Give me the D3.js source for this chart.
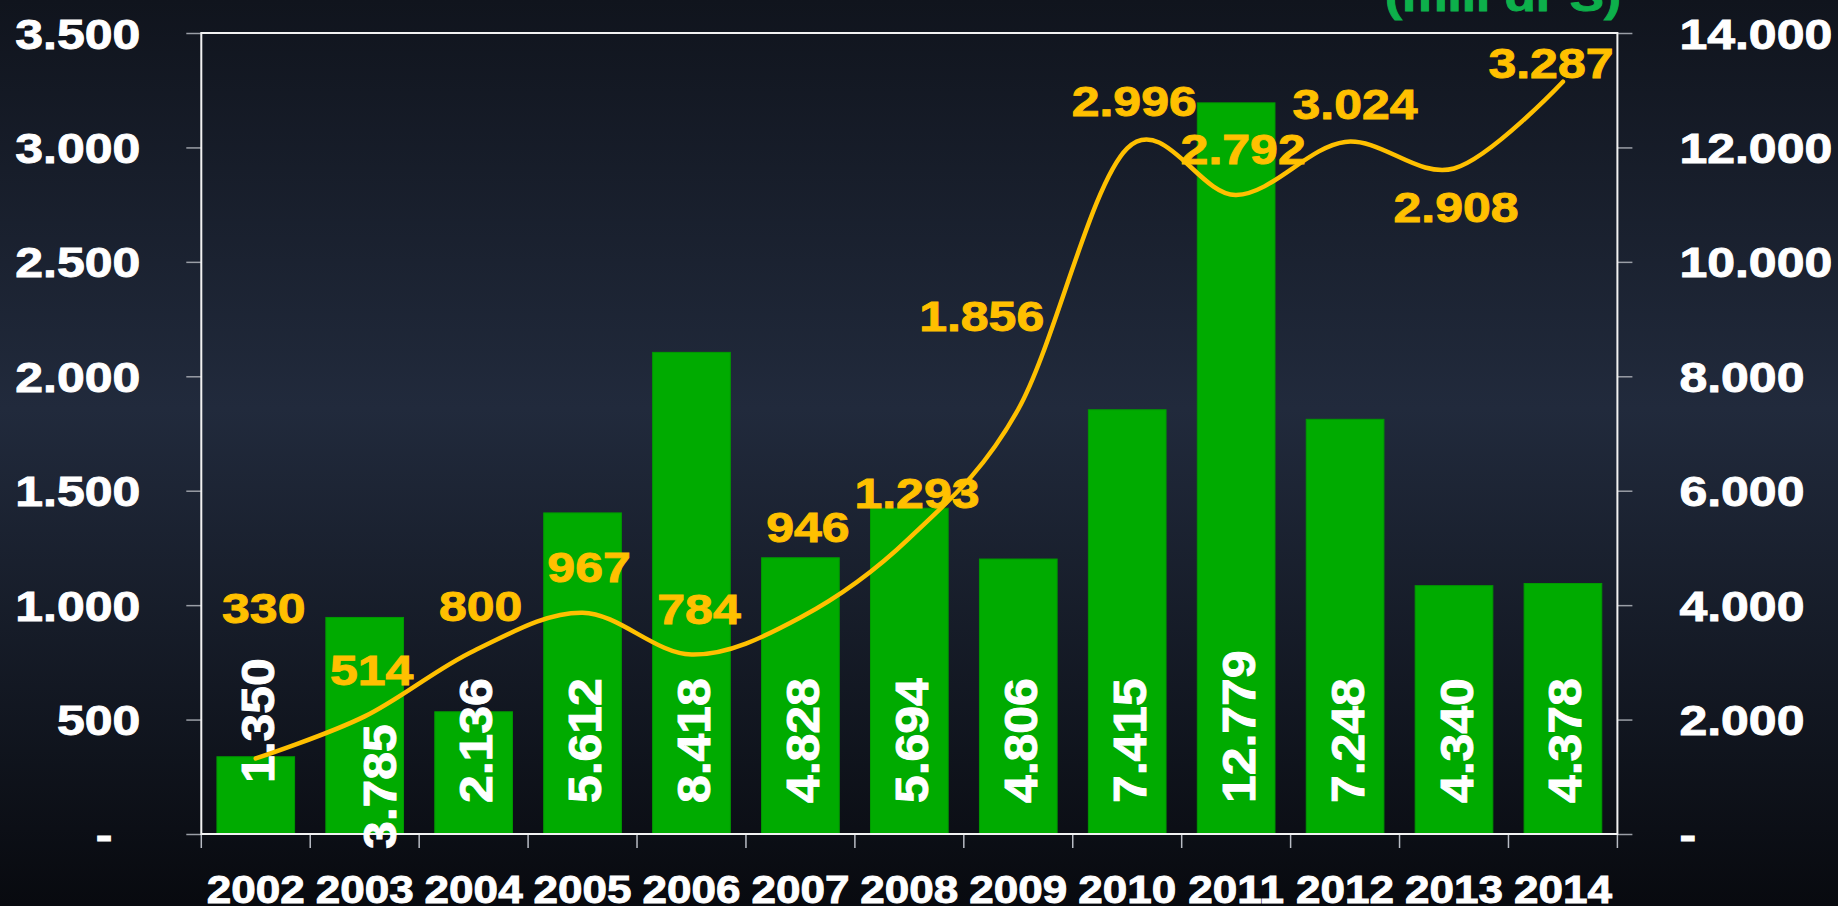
<!DOCTYPE html>
<html>
<head>
<meta charset="utf-8">
<script src="https://cdn.jsdelivr.net/npm/d3@7"></script>
<style>
  html, body { margin: 0; padding: 0; background: #10141d; overflow: hidden; }
  svg { display: block; }
</style>
</head>
<body>
<svg id="chart" width="1838" height="906"></svg>
<script>
// ---------------- data ----------------
const years = ["2002","2003","2004","2005","2006","2007","2008","2009","2010","2011","2012","2013","2014"];
const barValues = [1350, 3785, 2136, 5612, 8418, 4828, 5694, 4806, 7415, 12779, 7248, 4340, 4378];
const lineValues = [330, 514, 800, 967, 784, 946, 1293, 1856, 2996, 2792, 3024, 2908, 3287];
const leftTicks = [0, 500, 1000, 1500, 2000, 2500, 3000, 3500];
const rightTicks = [0, 2000, 4000, 6000, 8000, 10000, 12000, 14000];
const titleText = "(mill dr S)";

// ---------------- layout tweaks (label nudges, px) ----------------
const lineLabelNudge = [[8,-135],[7,-31],[7,-30],[6.5,-31],[7.5,-31],[7.5,-75.5],[7.6,-30.4],[-36.6,-78],[7,-32.5],[7,-31],[10,-23],[2,54],[-12,-4]];
const barLabelNudge = [[0,-20],[13,46],[0,0],[0,0],[0,0],[0,0],[0,0],[0,0],[0,0],[0,0],[0,0],[0,0],[0,0]];

const W = 1838, H = 906;
const plot = { left: 201.3, right: 1617.4, top: 33, bottom: 834 };
const FONT = "'Liberation Sans', Arial, Helvetica, sans-serif";
const SX = 1.19;               // horizontal stretch of the original rendering
const GOLD = "#ffc000", GREEN = "#00ab00";
const HEAVY = 0.9;             // extra stroke to mimic the heavy bold rendering

const fmt = d3.formatLocale({ decimal: ",", thousands: ".", grouping: [3], currency: ["", ""] }).format(",d");
const numFmt = v => v === 0 ? "-" : fmt(v);

const svg = d3.select("#chart");

// background gradient
const defs = svg.append("defs");
const grad = defs.append("linearGradient").attr("id", "bg").attr("x1", 0).attr("y1", 0).attr("x2", 0).attr("y2", 1);
grad.append("stop").attr("offset", "0%").attr("stop-color", "#10141d");
grad.append("stop").attr("offset", "45%").attr("stop-color", "#212a3c");
grad.append("stop").attr("offset", "100%").attr("stop-color", "#080a0f");
svg.append("rect").attr("width", W).attr("height", H).attr("fill", "url(#bg)");

// scales
const x = d3.scaleBand().domain(years).range([plot.left, plot.right]).paddingInner(0.287).paddingOuter(0.1435);
const yL = d3.scaleLinear().domain([0, 3500]).range([plot.bottom, plot.top]);
const yR = d3.scaleLinear().domain([0, 14000]).range([plot.bottom, plot.top]);
const cx = d => x(d) + x.bandwidth() / 2;

// title (partially cut at top)
svg.append("text")
  .attr("transform", `translate(1503,11) scale(${SX},1)`)
  .attr("text-anchor", "middle")
  .attr("font-family", FONT).attr("font-weight", "bold").attr("font-size", 43)
  .attr("fill", "#0db04b").attr("stroke", "#0db04b").attr("stroke-width", HEAVY)
  .text(titleText);

// bars
svg.append("g").selectAll("rect").data(years).join("rect")
  .attr("x", d => x(d))
  .attr("width", x.bandwidth())
  .attr("y", (d, i) => yR(barValues[i]))
  .attr("height", (d, i) => yR(0) - yR(barValues[i]))
  .attr("fill", GREEN)
  .attr("stroke", "#009a00").attr("stroke-width", 1);

// axes
function styleText(g, anchorShift) {
  g.selectAll(".tick text").each(function (d) {
    const t = d3.select(this);
    const xx = +t.attr("x");
    t.attr("x", 0)
     .attr("dy", "0.36em")
     .attr("dx", anchorShift ? anchorShift(d) : 0)
     .attr("transform", `translate(${xx},0) scale(${SX},1)`);
  });
}

const gL = svg.append("g").attr("transform", `translate(${plot.left},0)`)
  .call(d3.axisLeft(yL).tickValues(leftTicks).tickFormat(numFmt).tickSize(15).tickPadding(46));
gL.select(".domain").remove();
gL.selectAll(".tick line").attr("stroke", "#9a9ea6").attr("stroke-width", 1.5);
gL.selectAll(".tick text").attr("fill", "#ffffff").attr("stroke", "#ffffff").attr("stroke-width", HEAVY)
  .attr("font-family", FONT).attr("font-weight", "bold").attr("font-size", 42);
styleText(gL, d => d === 0 ? -28 / SX : 0);

const gR = svg.append("g").attr("transform", `translate(${plot.right},0)`)
  .call(d3.axisRight(yR).tickValues(rightTicks).tickFormat(numFmt).tickSize(15).tickPadding(47));
gR.select(".domain").remove();
gR.selectAll(".tick line").attr("stroke", "#9a9ea6").attr("stroke-width", 1.5);
gR.selectAll(".tick text").attr("fill", "#ffffff").attr("stroke", "#ffffff").attr("stroke-width", HEAVY)
  .attr("font-family", FONT).attr("font-weight", "bold").attr("font-size", 42);
styleText(gR, null);

const gB = svg.append("g").attr("transform", `translate(0,${plot.bottom})`)
  .call(d3.axisBottom(x).tickSize(0).tickPadding(0));
gB.select(".domain").remove();
gB.selectAll(".tick text").each(function () {
  d3.select(this).attr("y", 0).attr("dy", 0)
    .attr("transform", `translate(0,69) scale(1.16,1)`);
});
gB.selectAll(".tick text").attr("fill", "#ffffff").attr("stroke", "#ffffff").attr("stroke-width", HEAVY)
  .attr("font-family", FONT).attr("font-weight", "bold").attr("font-size", 38);

// category boundary ticks
const gap = (x.step() - x.bandwidth()) / 2;
const bounds = years.map(d => x(d) - gap).concat([x(years[years.length - 1]) + x.bandwidth() + gap]);
svg.append("g").selectAll("line").data(bounds).join("line")
  .attr("x1", d => d).attr("x2", d => d)
  .attr("y1", plot.bottom).attr("y2", plot.bottom + 14)
  .attr("stroke", "#b8bcc4").attr("stroke-width", 1.5);

// frame
svg.append("rect")
  .attr("x", plot.left).attr("y", plot.top)
  .attr("width", plot.right - plot.left).attr("height", plot.bottom - plot.top)
  .attr("fill", "none").attr("stroke", "#f2f2f2").attr("stroke-width", 2);

// bar value labels (rotated)
svg.append("g").selectAll("text").data(years).join("text")
  .attr("transform", (d, i) => `translate(${cx(d) + 18.5 + barLabelNudge[i][0]},${plot.bottom - 31 + barLabelNudge[i][1]}) rotate(-90) scale(1.085,1)`)
  .attr("text-anchor", "start")
  .attr("font-family", FONT).attr("font-weight", "bold").attr("font-size", 46)
  .attr("fill", "#ffffff").attr("stroke", "#ffffff").attr("stroke-width", HEAVY)
  .text((d, i) => fmt(barValues[i]));

// line
const line = d3.line()
  .x((d, i) => cx(years[i]))
  .y(d => yL(d))
  .curve(d3.curveCardinal.tension(0));
svg.append("path").datum(lineValues)
  .attr("d", line)
  .attr("fill", "none").attr("stroke", GOLD).attr("stroke-width", 4.5)
  .attr("stroke-linecap", "round").attr("stroke-linejoin", "round");

// line value labels
svg.append("g").selectAll("text").data(lineValues).join("text")
  .attr("transform", (d, i) => `translate(${cx(years[i]) + lineLabelNudge[i][0]},${yL(d) + lineLabelNudge[i][1]}) scale(${SX},1)`)
  .attr("text-anchor", "middle")
  .attr("font-family", FONT).attr("font-weight", "bold").attr("font-size", 42)
  .attr("fill", GOLD).attr("stroke", GOLD).attr("stroke-width", HEAVY)
  .text(d => fmt(d));
</script>
</body>
</html>
